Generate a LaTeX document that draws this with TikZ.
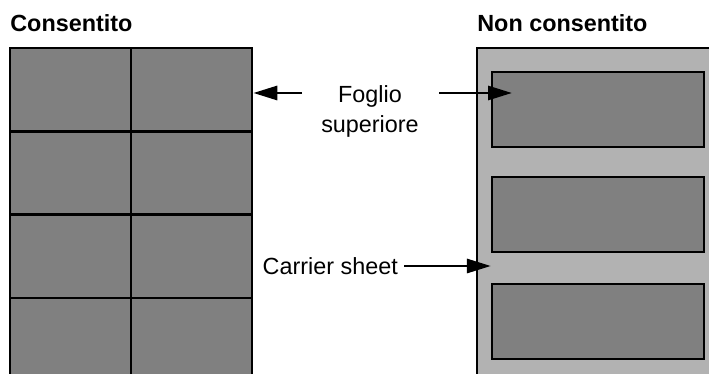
\documentclass[tikz,border=0pt]{standalone}
\usepackage{fontspec}
\setmainfont{Liberation Sans}
\usetikzlibrary{arrows.meta}
\tikzset{
  cell/.style={draw, line width=1.5pt, fill=gray, minimum width=2.42cm, minimum height=1.666cm},
  backing/.style={draw, line width=1.5pt, fill=gray!60, minimum width=4.86cm, minimum height=6.84cm},
  sticker/.style={draw, line width=1.3pt, fill=gray, minimum width=4.24cm, minimum height=1.5cm},
  title/.style={inner sep=0pt, font=\bfseries\fontsize{13.3}{17}\selectfont},
  txt/.style={font=\fontsize{13.3}{17.07}\selectfont},
  arr/.style={line width=1.7pt, -{Triangle[length=0.48cm, width=0.28cm]}}
}
\begin{document}
\begin{tikzpicture}[x=0.02cm, y=-0.02cm]
\clip (0,0) rectangle (709,374);
% allowed: grid of sheets
\foreach \r in {0,...,3}
  \foreach \c in {0,1}
    \node[cell] (c\r\c) at ({70.5+121*\c},{89.65+83.3*\r}) {};
% not allowed: carrier sheet with labels
\node[backing] (back) at (598.5,219) {};
\node[sticker] (lab1) at (598,109.5) {};
\node[sticker] (lab2) at (598,214.5) {};
\node[sticker] (lab3) at (598,321.5) {};
% titles and texts
\node[title, anchor=base west] (ok) at (10,32) {Consentito};
\node[title, anchor=base west] (notok) at (477,32) {Non consentito};
\node[txt, align=center] (foglio) at (370,111) {Foglio\\superiore};
\node[txt, anchor=east] (carrier) at (404,266) {Carrier sheet};
% arrows
\coordinate (fl) at (302,93);
\coordinate (fr) at (439,93);
\coordinate (ft) at (512,93);
\draw[arr] (fl) -- (fl -| c01.east);
\draw[arr] (fr) -- (ft);
\draw[arr] (carrier.east) -- (carrier.east -| lab2.west);
\end{tikzpicture}
\end{document}
